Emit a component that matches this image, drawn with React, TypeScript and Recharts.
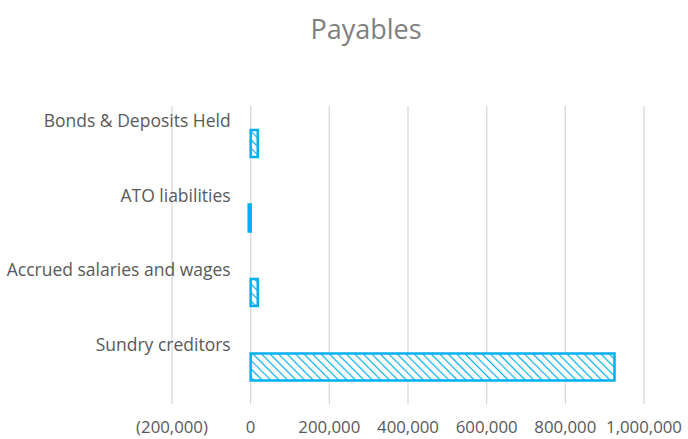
import { BarChart, Bar, XAxis, YAxis, CartesianGrid } from "recharts";

const categories = [
  "Bonds & Deposits Held",
  "ATO liabilities",
  "Accrued salaries and wages",
  "Sundry creditors",
];
const values = [18000, -5000, 18000, 925000];
const xTicks = [-200000, 0, 200000, 400000, 600000, 800000, 1000000];

const chartData = categories.map((name, i) => ({ name, value: values[i] }));

const X_MIN = -200000;
const X_MAX = 1000000;
const PLOT_LEFT = 172;
const PLOT_RIGHT = 644;
const zeroX = PLOT_LEFT + ((0 - X_MIN) / (X_MAX - X_MIN)) * (PLOT_RIGHT - PLOT_LEFT);

const fmt = (v: number) => {
  const s = Math.abs(v).toLocaleString("en-US");
  return v < 0 ? `(${s})` : s;
};

const font = "'Open Sans', sans-serif";

function CategoryTick(props: any) {
  const { y, payload } = props;
  return (
    <text
      x={zeroX - 20}
      y={y - 23}
      textAnchor="end"
      dominantBaseline="central"
      fill="#595959"
      fontSize={17.5}
      fontFamily={font}
    >
      {payload.value}
    </text>
  );
}

export default function App() {
  return (
    <div style={{ position: "absolute", left: 0, top: 0, width: 688, height: 439, background: "#fff" }}>
      <svg width={0} height={0} style={{ position: "absolute" }}>
        <defs>
          <pattern id="hatch" patternUnits="userSpaceOnUse" width="6" height="6" patternTransform="rotate(-45)">
            <rect width="6" height="6" fill="#ffffff" />
            <line x1="0" y1="0" x2="0" y2="6" stroke="#00b0f0" strokeWidth="2.4" />
          </pattern>
        </defs>
      </svg>
      <div
        style={{
          position: "absolute",
          top: 10,
          width: 688,
          textAlign: "center",
          left: 22,
          fontFamily: font,
          fontSize: 27,
          color: "#7f7f7f",
        }}
      >
        Payables
      </div>
      <BarChart
        width={688}
        height={439}
        data={chartData}
        layout="vertical"
        margin={{ top: 106, right: 44, bottom: 0, left: 0 }}
        barCategoryGap={0}
      >
        <CartesianGrid horizontal={false} stroke="#d9d9d9" strokeWidth={1.3} />
        <XAxis
          type="number"
          domain={[X_MIN, X_MAX]}
          ticks={xTicks}
          tickFormatter={fmt}
          axisLine={false}
          tickLine={false}
          tick={{ fill: "#595959", fontSize: 16.8, fontFamily: font }}
          height={35}
          tickMargin={11}
          interval={0}
        />
        <YAxis
          type="category"
          dataKey="name"
          width={172}
          axisLine={false}
          tickLine={false}
          tick={<CategoryTick />}
          interval={0}
        />
        <Bar
          dataKey="value"
          barSize={27}
          fill="url(#hatch)"
          stroke="#00b0f0"
          strokeWidth={2.5}
          isAnimationActive={false}
        />
      </BarChart>
    </div>
  );
}
